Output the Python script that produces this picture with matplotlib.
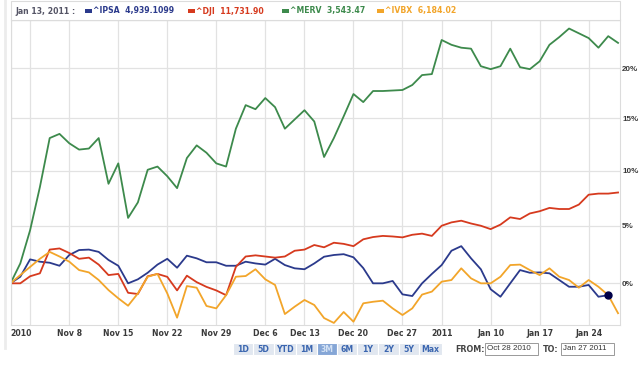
import numpy as np
import matplotlib
matplotlib.use("Agg")
import matplotlib.pyplot as plt
from matplotlib.patches import Rectangle

# % change since Oct 28 2010, one value per trading day
ipsa = [0, 0.56, 2.05, 1.85, 1.76, 1.5, 2.43, 2.86, 2.9, 2.7,
        2.0, 1.5, 0.0, 0.34, 0.9, 1.6, 2.1, 1.33, 2.37, 2.14,
        1.8, 1.8, 1.5, 1.5, 1.85, 1.7, 1.6, 2.1, 1.56, 1.28,
        1.2, 1.7, 2.28, 2.43, 2.5, 2.23, 1.3, 0.0, 0.0, 0.2,
        -0.93, -1.07, 0.0, 0.8, 1.56, 2.8, 3.2, 2.14, 1.2, -0.5,
        -1.13, 0.0, 1.13, 0.9, 0.93, 0.85, 0.28, -0.29, -0.29, -0.14,
        -1.13, -1.0, np.nan]
dji = [0, 0.0, 0.6, 0.85, 2.9, 3.0, 2.6, 2.1, 2.2, 1.6,
       0.7, 0.8, -0.8, -0.9, 0.6, 0.8, 0.55, -0.6, 0.65, 0.1,
       -0.3, -0.6, -1.0, 1.4, 2.3, 2.4, 2.3, 2.2, 2.3, 2.8,
       2.9, 3.3, 3.1, 3.5, 3.4, 3.2, 3.8, 4.0, 4.1, 4.05,
       3.97, 4.2, 4.3, 4.1, 5.0, 5.3, 5.45, 5.2, 5.0, 4.7,
       5.1, 5.75, 5.6, 6.1, 6.3, 6.6, 6.5, 6.5, 6.9, 7.8,
       7.9, 7.9, 8.0]
merv = [0, 1.7, 4.6, 8.5, 13.1, 13.5, 12.6, 12.0, 12.1, 13.1,
        8.8, 10.7, 5.7, 7.1, 10.1, 10.4, 9.5, 8.4, 11.2, 12.4,
        11.7, 10.7, 10.4, 14.0, 16.3, 15.9, 17.0, 16.1, 14.0, 14.9,
        15.8, 14.7, 11.3, 13.1, 15.2, 17.4, 16.6, 17.7, 17.7, 17.75,
        17.8, 18.3, 19.3, 19.4, 22.9, 22.4, 22.1, 22.0, 20.2, 19.9,
        20.2, 22.0, 20.1, 19.9, 20.7, 22.4, 23.2, 24.1, 23.6, 23.1,
        22.1, 23.3, 22.6]
ivbx = [0, 0.7, 1.4, 2.1, 2.7, 2.3, 1.85, 1.13, 0.93, 0.28,
        -0.57, -1.26, -1.88, -0.85, 0.56, 0.8, -0.85, -2.87, -0.23, -0.37,
        -1.9, -2.1, -1.0, 0.56, 0.62, 1.2, 0.34, -0.14, -2.57, -1.96,
        -1.4, -1.82, -2.9, -3.3, -2.4, -3.2, -1.68, -1.55, -1.46, -2.1,
        -2.65, -2.1, -0.95, -0.7, 0.14, 0.28, 1.28, 0.42, 0.0, 0.0,
        0.56, 1.56, 1.6, 1.13, 0.7, 1.28, 0.56, 0.28, -0.37, 0.28,
        -0.29, -1.0, -2.5]

tick_pos = [0, 2, 6, 11, 16, 21, 26, 30, 35, 40, 44, 49, 54, 59]
tick_labels = ["2010", "", "Nov 8", "Nov 15", "Nov 22", "Nov 29", "Dec 6", "Dec 13",
               "Dec 20", "Dec 27", "2011", "Jan 10", "Jan 17", "Jan 24"]
y_ticks = [0, 5, 10, 15, 20]

legend_items = [("^IPSA", "4,939.1099", "#2b3a8c"),
                ("^DJI", "11,731.90", "#d63a1e"),
                ("^MERV", "3,543.47", "#3d8a4c"),
                ("^IVBX", "6,184.02", "#f2a52a")]
buttons = ["1D", "5D", "YTD", "1M", "3M", "6M", "1Y", "2Y", "5Y", "Max"]

W, H = 640, 370
fig = plt.figure(figsize=(6.4, 3.7), dpi=100)
fig.patch.set_facecolor("white")

def fx(px):
    return px / W

def fy(py):
    return 1 - py / H

ax = fig.add_axes([fx(10.5), fy(325), fx(620 - 10.5), (325 - 20) / H])
ax.set_yscale("function", functions=(lambda p: np.log1p(np.asarray(p) / 100.0),
                                     lambda v: np.expm1(np.asarray(v)) * 100.0))

x = np.arange(len(merv))
ax.plot(x, ipsa, color=legend_items[0][2], lw=1.3)
ax.plot(x, dji, color=legend_items[1][2], lw=1.3)
ax.plot(x, merv, color=legend_items[2][2], lw=1.3)
ax.plot(x, ivbx, color=legend_items[3][2], lw=1.3)
ax.plot([x[61]], [ipsa[61]], "o", color="#000048", ms=5, zorder=5)

ax.set_xlim(0, 62.2)
ax.set_ylim(-3.47, 25)

ax.set_xticks(tick_pos)
ax.set_xticklabels(tick_labels, fontsize=5.6, fontweight="bold", color="#3a3a3a")
ax.get_xticklabels()[0].set_horizontalalignment("left")
ax.set_yticks(y_ticks + [25])
ax.set_yticklabels([f"{v}%" for v in y_ticks] + [""], fontsize=5.8,
                   fontweight="bold", color="#3a3a3a", family="Liberation Sans")
ax.yaxis.tick_right()
ax.tick_params(axis="both", length=0)
ax.tick_params(axis="x", pad=3)
ax.tick_params(axis="y", pad=1.5)
ax.minorticks_off()
ax.grid(True, color="#e2e2e2", lw=0.9)
ax.set_axisbelow(True)
for s in ax.spines.values():
    s.set_color("#dcdcdc")
    s.set_linewidth(0.8)

# legend band on top
fig.add_artist(Rectangle((fx(10.5), fy(20)), fx(609.5), 19 / H, transform=fig.transFigure,
                         facecolor="white", edgecolor="#dcdcdc", lw=0.8))
fig.text(fx(15), fy(11), "Jan 13, 2011 :", fontsize=5.6, color="#555566",
         va="center", ha="left", fontweight="bold")
lx = [85, 188, 282, 377]
for (name, val, col), px in zip(legend_items, lx):
    fig.add_artist(Rectangle((fx(px), fy(12.5)), fx(7), 3 / H, transform=fig.transFigure,
                             facecolor=col, edgecolor="none"))
    fig.text(fx(px + 8), fy(11), f"{name}  {val}", fontsize=5.6, color=col,
             va="center", ha="left", fontweight="bold")

# left container border
fig.add_artist(plt.Line2D([fx(5), fx(5)], [fy(0), fy(348)], transform=fig.transFigure,
                          color="#ececec", lw=2))

# range buttons
bx = [233, 253, 274, 296, 317, 337, 357, 378, 399, 419, 442]
for i, lab in enumerate(buttons):
    x0, x1 = bx[i], bx[i + 1]
    on = lab == "3M"
    fig.add_artist(Rectangle((fx(x0), fy(355)), fx(x1 - x0), 12 / H, transform=fig.transFigure,
                             facecolor="#85a6d6" if on else "#e1e7f0", edgecolor="white", lw=0.8))
    fig.text(fx((x0 + x1) / 2), fy(349), lab, fontsize=5.6, fontweight="bold",
             color="#d4e2f4" if on else "#3b66b0", ha="center", va="center")

fig.text(fx(455), fy(349), "FROM:", fontsize=5.8, fontweight="bold", color="#444444",
         ha="left", va="center")
fig.add_artist(Rectangle((fx(485), fy(355)), fx(53), 12 / H, transform=fig.transFigure,
                         facecolor="white", edgecolor="#999999", lw=0.7))
fig.text(fx(487), fy(349), "Oct 28 2010", fontsize=5.8, color="#333333",
         ha="left", va="center", family="Liberation Sans")
fig.text(fx(543), fy(349), "TO:", fontsize=5.8, fontweight="bold", color="#444444",
         ha="left", va="center")
fig.add_artist(Rectangle((fx(561), fy(355)), fx(53), 12 / H, transform=fig.transFigure,
                         facecolor="white", edgecolor="#999999", lw=0.7))
fig.text(fx(563), fy(349), "Jan 27 2011", fontsize=5.8, color="#333333",
         ha="left", va="center", family="Liberation Sans")

fig.savefig("out.png", dpi=100)
